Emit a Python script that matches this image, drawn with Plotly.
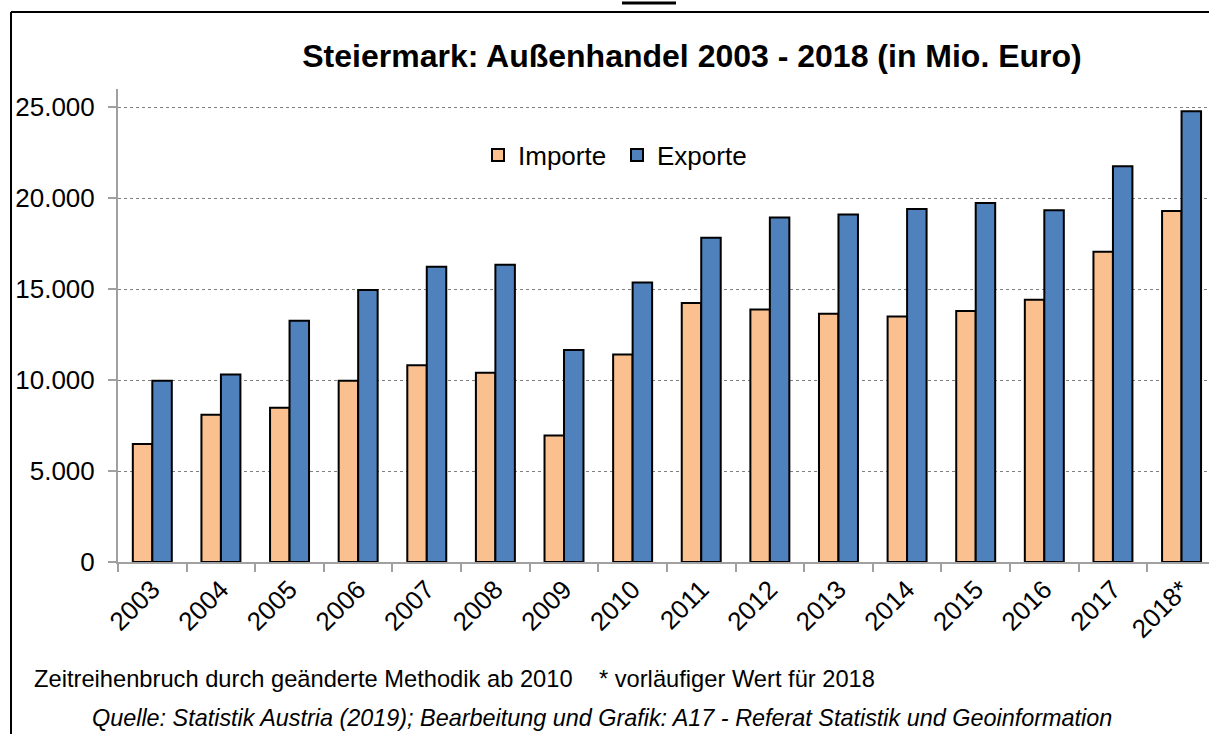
import plotly.graph_objects as go

# ---- data ----
years = ["2003", "2004", "2005", "2006", "2007", "2008", "2009", "2010",
         "2011", "2012", "2013", "2014", "2015", "2016", "2017", "2018*"]
importe = [6480, 8090, 8480, 9960, 10820, 10400, 6950, 11400,
           14230, 13880, 13640, 13500, 13800, 14410, 17050, 19300]
exporte = [9960, 10310, 13260, 14950, 16230, 16340, 11650, 15360,
           17820, 18930, 19100, 19400, 19730, 19340, 21760, 24780]
y_ticks = [0, 5000, 10000, 15000, 20000, 25000]

title_text = "Steiermark: Außenhandel 2003 - 2018 (in Mio. Euro)"
note_text = "Zeitreihenbruch durch geänderte Methodik ab 2010\u00a0\u00a0\u00a0 * vorläufiger Wert für 2018"
source_text = "<i>Quelle: Statistik Austria (2019); Bearbeitung und Grafik: A17 - Referat Statistik und Geoinformation</i>"

# ---- layout geometry (pixels) ----
W, H = 1209, 734
L, R, T, B = 118, 1209, 89, 562
FONT = "Arial, 'Liberation Sans', sans-serif"


def px_x(p):
    return (p - L) / (R - L)


def px_y(p):
    return (B - p) / (B - T)


fig = go.Figure()
fig.add_trace(go.Bar(
    name="Importe", x=years, y=importe,
    marker=dict(color="#FAC090", line=dict(color="#000000", width=2)),
))
fig.add_trace(go.Bar(
    name="Exporte", x=years, y=exporte,
    marker=dict(color="#4F81BD", line=dict(color="#000000", width=2)),
))

fig.update_layout(
    width=W, height=H,
    margin=dict(l=L, r=W - R, t=T, b=H - B, pad=0),
    paper_bgcolor="white", plot_bgcolor="white",
    font=dict(family=FONT, color="#000000", size=26),
    separators=",.",
    barmode="group", bargap=0.432, bargroupgap=0,
    title=dict(text="<b>" + title_text + "</b>", x=692 / W, xref="container",
               xanchor="center", y=1 - 56 / H, yref="container", yanchor="middle",
               font=dict(size=32, family=FONT, color="#000000")),
    legend=dict(orientation="h", x=px_x(478), y=px_y(155), xanchor="left",
                yanchor="middle", font=dict(size=26, family=FONT),
                entrywidth=94, entrywidthmode="pixels",
                bgcolor="rgba(0,0,0,0)", borderwidth=0, traceorder="normal"),
    showlegend=True,
)

fig.update_xaxes(
    type="category", range=[-0.5, 15.4],
    showline=True, linecolor="#A0A0A0", linewidth=2,
    ticks="outside", tickson="boundaries", ticklen=8, tickwidth=2, tickcolor="#A0A0A0",
    tickangle=-45, tickfont=dict(size=26, family=FONT),
    showgrid=False, zeroline=False,
)
fig.update_yaxes(
    range=[0, 26000], tickvals=y_ticks, tickformat=",d",
    showline=True, linecolor="#A0A0A0", linewidth=2,
    ticks="outside", ticklen=8, tickwidth=2, tickcolor="#A0A0A0",
    ticklabelstandoff=8,
    tickfont=dict(size=26, family=FONT),
    showgrid=True, gridcolor="#808080", gridwidth=1, griddash="dot",
    zeroline=False,
)

# frame around the chart (extends past right and bottom edges)
fig.add_shape(type="line", xref="paper", yref="paper",
              x0=px_x(11), x1=px_x(1230), y0=px_y(12), y1=px_y(12),
              line=dict(color="#000000", width=2))
fig.add_shape(type="line", xref="paper", yref="paper",
              x0=px_x(11), x1=px_x(11), y0=px_y(12), y1=px_y(760),
              line=dict(color="#000000", width=2))
# small line at the very top
fig.add_shape(type="line", xref="paper", yref="paper",
              x0=px_x(622), x1=px_x(676), y0=px_y(3), y1=px_y(3),
              line=dict(color="#000000", width=3))

fig.add_annotation(text=note_text, xref="paper", yref="paper",
                   x=px_x(32), y=px_y(679), xanchor="left", yanchor="middle",
                   showarrow=False, font=dict(size=23.7, family=FONT, color="#000000"))
fig.add_annotation(text=source_text, xref="paper", yref="paper",
                   x=px_x(602), y=px_y(718), xanchor="center", yanchor="middle",
                   showarrow=False, font=dict(size=23.4, family=FONT, color="#000000"))

fig.write_html("out.html",
               config={"displayModeBar": False},
               post_script="document.body.style.margin='0px';"
                           "document.body.style.overflow='hidden';")
